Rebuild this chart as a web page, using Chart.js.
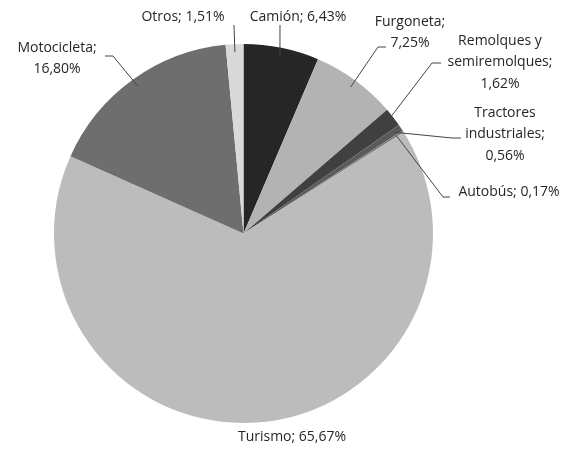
<!DOCTYPE html>
<html>
<head>
<meta charset="utf-8">
<script src="https://cdn.jsdelivr.net/npm/chart.js@4"></script>
<style>
  html, body { margin: 0; padding: 0; background: #fff; }
  #wrap { width: 572px; height: 449px; position: relative; }
</style>
</head>
<body>
<div id="wrap"><canvas id="myChart"></canvas></div>
<script>
const categories = ['Camión', 'Furgoneta', 'Remolques y semiremolques', 'Tractores industriales', 'Autobús', 'Turismo', 'Motocicleta', 'Otros']
const shares = [6.43, 7.25, 1.62, 0.56, 0.17, 65.67, 16.80, 1.51]
const labelLines = [
  ['Camión; 6,43%'],
  ['Furgoneta;', '7,25%'],
  ['Remolques y', 'semiremolques;', '1,62%'],
  ['Tractores', 'industriales;', '0,56%'],
  ['Autobús; 0,17%'],
  ['Turismo; 65,67%'],
  ['Motocicleta;', '16,80%'],
  ['Otros; 1,51%']
]
const colors = ['#262626', '#b3b3b3', '#404040', '#5a5a5a', '#7a7a7a', '#bcbcbc', '#6e6e6e', '#d9d9d9']

// where each label sits and where its leader line bends (layout only)
const labelPos = [
  {x: 298, y: 17, elbow: {x: 280, y: 25}, end: {x: 280, y: 25}},
  {x: 410, y: 22, elbow: {x: 378, y: 47}, end: {x: 386, y: 47}},
  {x: 500, y: 41, elbow: {x: 432, y: 63}, end: {x: 441, y: 63}},
  {x: 505, y: 113, elbow: {x: 452, y: 138}, end: {x: 461, y: 138}},
  {x: 509, y: 192, elbow: {x: 443, y: 197}, end: {x: 450, y: 197}},
  {x: 292, y: 437, elbow: null, end: null},
  {x: 57, y: 48, elbow: {x: 113, y: 56}, end: {x: 105, y: 56}},
  {x: 183, y: 17, elbow: {x: 234, y: 25}, end: {x: 234, y: 25}}
]

const pieLabels = {
  id: 'pieLabels',
  afterDraw(chart) {
    const ctx = chart.ctx
    const arcs = chart.getDatasetMeta(0).data
    ctx.save()
    ctx.font = '14px "Open Sans", Lato, sans-serif'
    ctx.fillStyle = '#262626'
    ctx.textAlign = 'center'
    ctx.textBaseline = 'middle'
    arcs.forEach((arc, i) => {
      const p = labelPos[i]
      if (p.elbow) {
        const mid = (arc.startAngle + arc.endAngle) / 2
        const sx = arc.x + Math.cos(mid) * (arc.outerRadius - 8)
        const sy = arc.y + Math.sin(mid) * (arc.outerRadius - 8)
        ctx.strokeStyle = '#444'
        ctx.lineWidth = 1
        ctx.beginPath()
        ctx.moveTo(sx, sy)
        ctx.lineTo(p.elbow.x, p.elbow.y)
        ctx.lineTo(p.end.x, p.end.y)
        ctx.stroke()
      }
      labelLines[i].forEach((line, k) => {
        ctx.fillText(line, p.x, p.y + k * 21.5)
      })
    })
    ctx.restore()
  }
}

const config = {
  type: 'pie',
  data: {
    labels: categories,
    datasets: [{
      data: shares,
      backgroundColor: colors,
      borderWidth: 0
    }]
  },
  options: {
    responsive: true,
    maintainAspectRatio: false,
    animation: false,
    layout: {padding: {left: 54, right: 139, top: 43, bottom: 25}},
    plugins: {
      legend: {display: false},
      tooltip: {enabled: false}
    }
  },
  plugins: [pieLabels]
}

const myChart = new Chart(document.getElementById('myChart'), config)
</script>
</body>
</html>
